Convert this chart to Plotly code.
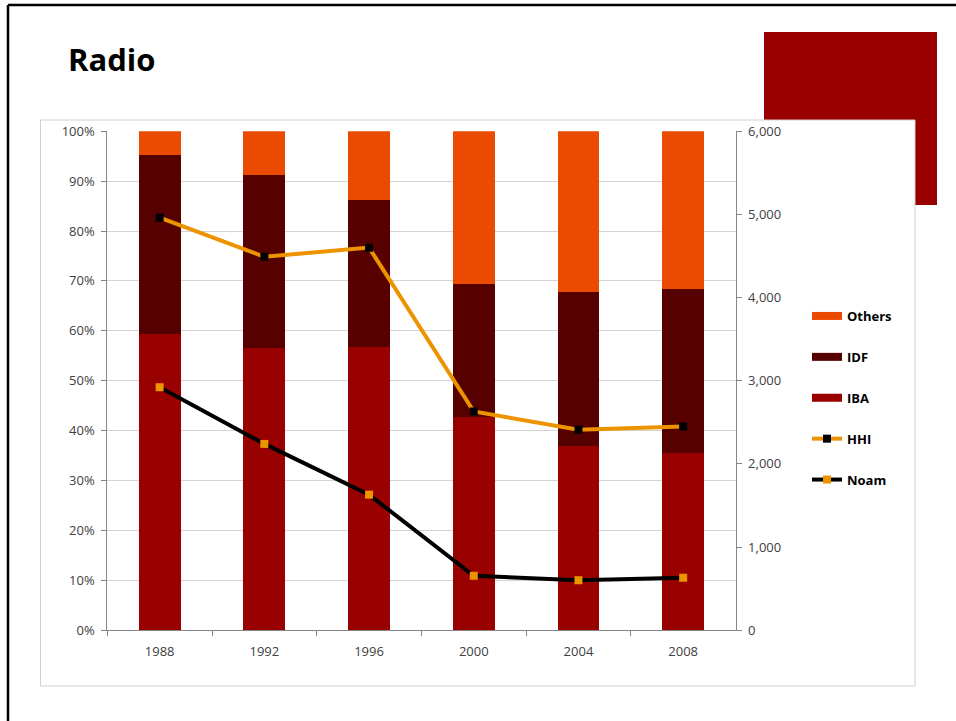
import plotly.graph_objects as go

# Radio market: audience shares by broadcaster and concentration indices
years = ["1988", "1992", "1996", "2000", "2004", "2008"]
iba = [59.3, 56.6, 56.7, 42.7, 36.9, 35.5]
idf = [36.0, 34.7, 29.6, 26.7, 30.8, 32.9]
others = [4.7, 8.7, 13.7, 30.6, 32.3, 31.6]
hhi = [4960, 4490, 4600, 2630, 2410, 2450]
noam = [2920, 2240, 1630, 655, 600, 630]

C_IBA = "#990000"
C_IDF = "#560000"
C_OTH = "#EA4B00"
C_ORANGE = "#EE9300"
FONT = "Open Sans"
GRID = "#D4D4D4"
AXIS = "#868686"
TICK_FONT = dict(family=FONT, size=13, color="#404040")
W, H = 956, 721


def px_x(v):
    return v / W


def px_y(v):
    return 1 - v / H


fig = go.Figure()

bar_specs = [("IBA", iba, C_IBA, 3), ("IDF", idf, C_IDF, 2), ("Others", others, C_OTH, 1)]
for name, vals, color, rank in bar_specs:
    fig.add_trace(go.Bar(
        x=years, y=vals, name=name, marker_color=color,
        marker_line_width=0, showlegend=False, legendgroup=name,
        yaxis="y",
    ))
    # wide swatch for the legend entry
    fig.add_trace(go.Scatter(
        x=[None], y=[None], mode="lines", name=name, legendgroup=name,
        line=dict(color=color, width=8), legendrank=rank, yaxis="y",
    ))

fig.add_trace(go.Scatter(
    x=years, y=hhi, name="HHI", mode="lines+markers", yaxis="y2",
    line=dict(color=C_ORANGE, width=4),
    marker=dict(symbol="square", size=8, color="black"),
    legendgroup="HHI", legendrank=4,
))
fig.add_trace(go.Scatter(
    x=years, y=noam, name="Noam", mode="lines+markers", yaxis="y2",
    line=dict(color="black", width=4),
    marker=dict(symbol="square", size=8, color=C_ORANGE),
    legendgroup="Noam", legendrank=5,
))

shapes = [
    # accent block behind the chart frame
    dict(type="rect", xref="paper", yref="paper", layer="below",
         x0=px_x(764), x1=px_x(937), y0=px_y(205), y1=px_y(32),
         fillcolor="#990000", line_width=0),
    # chart frame
    dict(type="rect", xref="paper", yref="paper", layer="below",
         x0=px_x(40.5), x1=px_x(915), y0=px_y(686), y1=px_y(120),
         fillcolor="white", line=dict(color="#D0D0D0", width=1)),
    # slide border
    dict(type="line", xref="paper", yref="paper", layer="above",
         x0=px_x(8), x1=px_x(8), y0=0, y1=px_y(5),
         line=dict(color="black", width=2.5)),
    dict(type="line", xref="paper", yref="paper", layer="above",
         x0=px_x(8), x1=1, y0=px_y(5), y1=px_y(5),
         line=dict(color="black", width=2.5)),
]

fig.update_layout(
    width=W, height=H,
    margin=dict(l=0, r=0, t=0, b=0, pad=0),
    paper_bgcolor="white",
    plot_bgcolor="rgba(0,0,0,0)",
    barmode="stack",
    bargap=0.6,
    font=dict(family=FONT, size=12, color="#404040"),
    shapes=shapes,
    annotations=[dict(
        text="<b>Radio</b>", xref="paper", yref="paper",
        x=px_x(66), y=px_y(59), xanchor="left", yanchor="middle",
        showarrow=False, font=dict(family=FONT, size=31, color="black"),
    )],
    xaxis=dict(
        domain=[px_x(107.3), px_x(735.5)], automargin=False,
        type="category", categoryorder="array", categoryarray=years,
        showgrid=False, showline=True, linecolor=AXIS, linewidth=1,
        ticks="outside", tickson="boundaries", ticklen=5, tickcolor=AXIS,
        ticklabelstandoff=9, tickfont=TICK_FONT,
    ),
    yaxis=dict(
        domain=[px_y(630.2), px_y(131.2)], automargin=False,
        range=[0, 100], dtick=10, ticksuffix="%",
        showgrid=True, gridcolor=GRID, gridwidth=1,
        showline=True, linecolor=AXIS, linewidth=1,
        ticks="outside", ticklen=5, tickcolor=AXIS,
        ticklabelstandoff=4, zeroline=False, tickfont=TICK_FONT,
    ),
    yaxis2=dict(
        overlaying="y", side="right", automargin=False,
        range=[0, 6000], dtick=1000, tickformat=",",
        showgrid=False, showline=True, linecolor=AXIS, linewidth=1,
        ticks="outside", ticklen=5, tickcolor=AXIS,
        ticklabelstandoff=4, zeroline=False, tickfont=TICK_FONT,
    ),
    legend=dict(
        x=px_x(807), y=px_y(301), xanchor="left", yanchor="top",
        bgcolor="rgba(0,0,0,0)", borderwidth=0,
        font=dict(family=FONT, size=13, color="black", weight="bold"),
        traceorder="grouped", tracegroupgap=21, itemwidth=30,
    ),
)

fig.write_html("out.html")
